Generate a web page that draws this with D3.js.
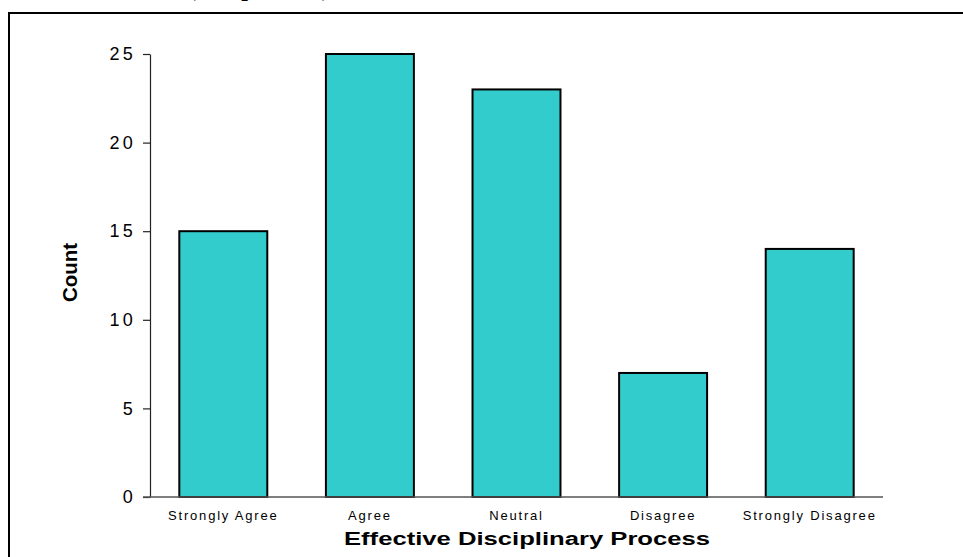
<!DOCTYPE html>
<html>
<head>
<meta charset="utf-8">
<script src="https://cdn.jsdelivr.net/npm/d3@7"></script>
<style>
  html, body { margin: 0; padding: 0; background: #fff; }
  svg { display: block; }
</style>
</head>
<body>
<svg id="chart" width="963" height="557"></svg>
<script>
// Responses to "Effective Disciplinary Process"
const categories = ["Strongly Agree", "Agree", "Neutral", "Disagree", "Strongly Disagree"];
const counts = [15, 25, 23, 7, 14];
const yTicks = [0, 5, 10, 15, 20, 25];

const svg = d3.select("#chart");

// caption above the frame (only its lower part falls inside the page)
svg.append("text")
  .attr("x", 188).attr("y", -4)
  .attr("font-family", "'Liberation Serif', serif")
  .attr("font-weight", "bold")
  .attr("font-size", 24)
  .text("(Sample = 84)");

// outer frame
svg.append("rect")
  .attr("x", 9).attr("y", 13)
  .attr("width", 1000).attr("height", 600)
  .attr("fill", "none")
  .attr("stroke", "#000")
  .attr("stroke-width", 2);

const x = d3.scaleBand()
  .domain(categories)
  .range([150, 883])
  .paddingInner(0.4)
  .paddingOuter(0.2);

const y = d3.scaleLinear()
  .domain([0, 25])
  .range([497, 54]);

// bars
svg.append("g").selectAll("rect")
  .data(categories)
  .join("rect")
  .attr("x", d => x(d))
  .attr("y", (d, i) => y(counts[i]))
  .attr("width", x.bandwidth())
  .attr("height", (d, i) => y(0) - y(counts[i]))
  .attr("fill", "#33CCCC")
  .attr("stroke", "#000")
  .attr("stroke-width", 2);

// y axis
const yAxis = svg.append("g")
  .attr("transform", "translate(150,0)")
  .call(d3.axisLeft(y).tickValues(yTicks).tickSize(7).tickSizeOuter(0).tickPadding(7));
yAxis.select(".domain").attr("stroke", "#222").attr("stroke-width", 1.2);
yAxis.selectAll(".tick line").attr("stroke", "#222").attr("stroke-width", 1.2);
yAxis.selectAll(".tick text")
  .attr("font-family", "'Liberation Sans', Arial, sans-serif")
  .attr("font-size", 18)
  .attr("letter-spacing", 3.2)
  .attr("fill", "#000");

// x axis baseline
const xAxis = svg.append("g")
  .attr("transform", `translate(0,${y(0)})`)
  .call(d3.axisBottom(x).tickSize(0).tickPadding(14));
xAxis.select(".domain")
  .attr("d", "M143,0H883")
  .attr("stroke", "#555").attr("stroke-width", 1.5);
xAxis.selectAll(".tick text")
  .attr("font-family", "'Liberation Sans', Arial, sans-serif")
  .attr("font-size", 13)
  .attr("letter-spacing", 1.8)
  .attr("fill", "#000");

// axis titles
svg.append("text")
  .attr("x", 344).attr("y", 545)
  .attr("font-family", "'Liberation Sans', Arial, sans-serif")
  .attr("font-weight", "bold")
  .attr("font-size", 18)
  .attr("textLength", 366)
  .attr("lengthAdjust", "spacingAndGlyphs")
  .text("Effective Disciplinary Process");

svg.append("text")
  .attr("transform", "translate(77,302) rotate(-90)")
  .attr("font-family", "'Liberation Sans', Arial, sans-serif")
  .attr("font-weight", "bold")
  .attr("font-size", 20)
  .attr("textLength", 59)
  .attr("lengthAdjust", "spacingAndGlyphs")
  .text("Count");
</script>
</body>
</html>
